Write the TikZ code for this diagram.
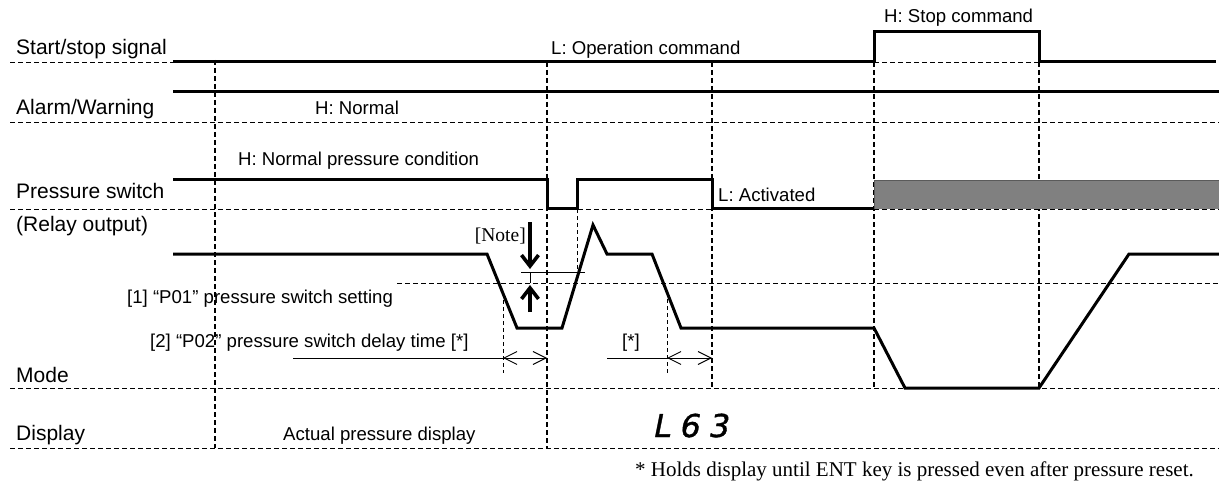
\documentclass[tikz,border=0pt]{standalone}
\usepackage{fontspec}
\setmainfont{Liberation Sans}
\newfontfamily\tnr{Liberation Serif}
\newfontfamily\segfont[FakeSlant=0.2,FakeBold=1.2]{DejaVu Sans}
\usetikzlibrary{arrows.meta}
\definecolor{boxgray}{HTML}{808080}
\tikzset{
  sig/.style={line width=3pt, line join=miter},
  gridline/.style={line width=0.9pt, dash pattern=on 5pt off 3pt},
  vgrid/.style={line width=1.8pt, dash pattern=on 5pt off 3pt},
  tgrid/.style={line width=0.9pt, dash pattern=on 4pt off 3pt},
  thinline/.style={line width=0.9pt},
  lbl/.style={font=\fontsize{21}{24}\selectfont, anchor=base west, inner sep=0pt},
  sm/.style={font=\fontsize{18.6}{22}\selectfont, anchor=base west, inner sep=0pt},
  dimarrow/.style={thinline, {Straight Barb[length=13pt,width=13pt]}-{Straight Barb[length=13pt,width=13pt]}},
  notearrow/.style={line width=3.6pt, -{Straight Barb[length=11pt,width=17pt,line width=3.6pt]}},
}
\begin{document}
\begin{tikzpicture}[x=1pt,y=-1pt]
\useasboundingbox (0,0) rectangle (1219,484);

% horizontal reference lines
\draw[gridline] (10,62) -- (173,62);
\draw[gridline] (874,62) -- (1039,62);
\draw[gridline] (10,122) -- (1219,122);
\draw[gridline] (10,209) -- (1219,209);
\draw[gridline] (397,283) -- (1219,283);
\draw[gridline] (10,388) -- (1219,388);
\draw[gridline] (10,448) -- (1219,448);

% vertical time markers
\draw[vgrid] (215,60) -- (215,448);
\draw[vgrid] (547,62) -- (547,448);
\draw[vgrid] (712,62) -- (712,388);
\draw[vgrid] (874,62) -- (874,388);
\draw[vgrid] (1039,62) -- (1039,388);
\draw[tgrid] (577,209) -- (577,276);
\draw[tgrid] (503,293) -- (503,373);
\draw[tgrid] (667,292) -- (667,373);

% grey area of pressure switch
\fill[boxgray] (874,180) rectangle (1219,209);
\draw[thinline, boxgray!70!black] (874,209) -- (874,180) -- (1219,180);

% signals
\draw[sig] (173,62) -- (874,62) -- (874,32) -- (1039,32) -- (1039,62) -- (1216,62);
\draw[sig] (173,92) -- (1219,92);
\draw[sig] (173,180) -- (547,180) -- (547,209) -- (577,209) -- (577,180) -- (712,180) -- (712,209) -- (874,209);
\draw[sig] (173,254) -- (487,254) -- (517,328) -- (562,328) -- (593,225) -- (607,254) -- (652,254) -- (681,328) -- (874,328) -- (905,388) -- (1039,388) -- (1129,254) -- (1219,254);

% note marks
\coordinate (nTop) at (530,222);
\coordinate (nTip) at (530,269);
\coordinate (nBot) at (530,312);
\coordinate (nTip2) at (530,285);
\coordinate (hl) at (521,272);
\coordinate (hr) at (585,272);
\coordinate (hs) at (530,272);
\coordinate (he) at (530,283);
\draw[notearrow] (nTop) -- (nTip);
\draw[notearrow] (nBot) -- (nTip2);
\draw[thinline] (hl) -- (hr);
\draw[thinline] (hs) -- (he);

% delay arrows
\coordinate (d1a) at (503,358);
\coordinate (d1b) at (547,358);
\coordinate (d1l) at (293,358);
\coordinate (d2a) at (667,358);
\coordinate (d2b) at (712,358);
\coordinate (d2l) at (607,358);
\draw[thinline] (d1l) -- (d1a);
\draw[dimarrow] (d1a) -- (d1b);
\draw[thinline] (d2l) -- (d2a);
\draw[dimarrow] (d2a) -- (d2b);

% row labels
\node[lbl] (tStart) at (16,55) {Start/stop signal};
\node[lbl] (tAlarm) at (16,115) {Alarm/Warning};
\node[lbl] (tPress) at (16,199) {Pressure switch};
\node[lbl] (tRelay) at (16,232) {(Relay output)};
\node[lbl] (tMode) at (16,382) {Mode};
\node[lbl] (tDisp) at (16,440) {Display};

% signal labels
\node[sm] (tOper) at (551,55) {L: Operation command};
\node[sm] (tStop) at (884,23) {H: Stop command};
\node[sm] (tNorm) at (315,115) {H: Normal};
\node[sm] (tNormP) at (238,165.5) {H: Normal pressure condition};
\node[sm] (tAct) at (718,201.5) {L: Activated};
\node[sm] (tP01) at (127,303) {[1] “P01” pressure switch setting};
\node[sm] (tP02) at (150,347) {[2] “P02” pressure switch delay time [*]};
\node[sm] (tStar) at (622,347) {[*]};
\node[sm] (tActual) at (283,440) {Actual pressure display};
\node[font=\tnr\fontsize{19.5}{22}\selectfont, anchor=base east, inner sep=0pt] (tNote) at (526,241) {[Note]};
\node[font=\segfont\fontsize{31.5}{36}\selectfont, anchor=base, inner sep=0pt] (tL63) at (690,437) {L\hspace{9pt}6\hspace{9pt}3};
\node[font=\tnr\fontsize{21}{24}\selectfont, anchor=base east, inner sep=0pt] (tFoot) at (1194,476.5) {* Holds display until ENT key is pressed even after pressure reset.};
\end{tikzpicture}
\end{document}
